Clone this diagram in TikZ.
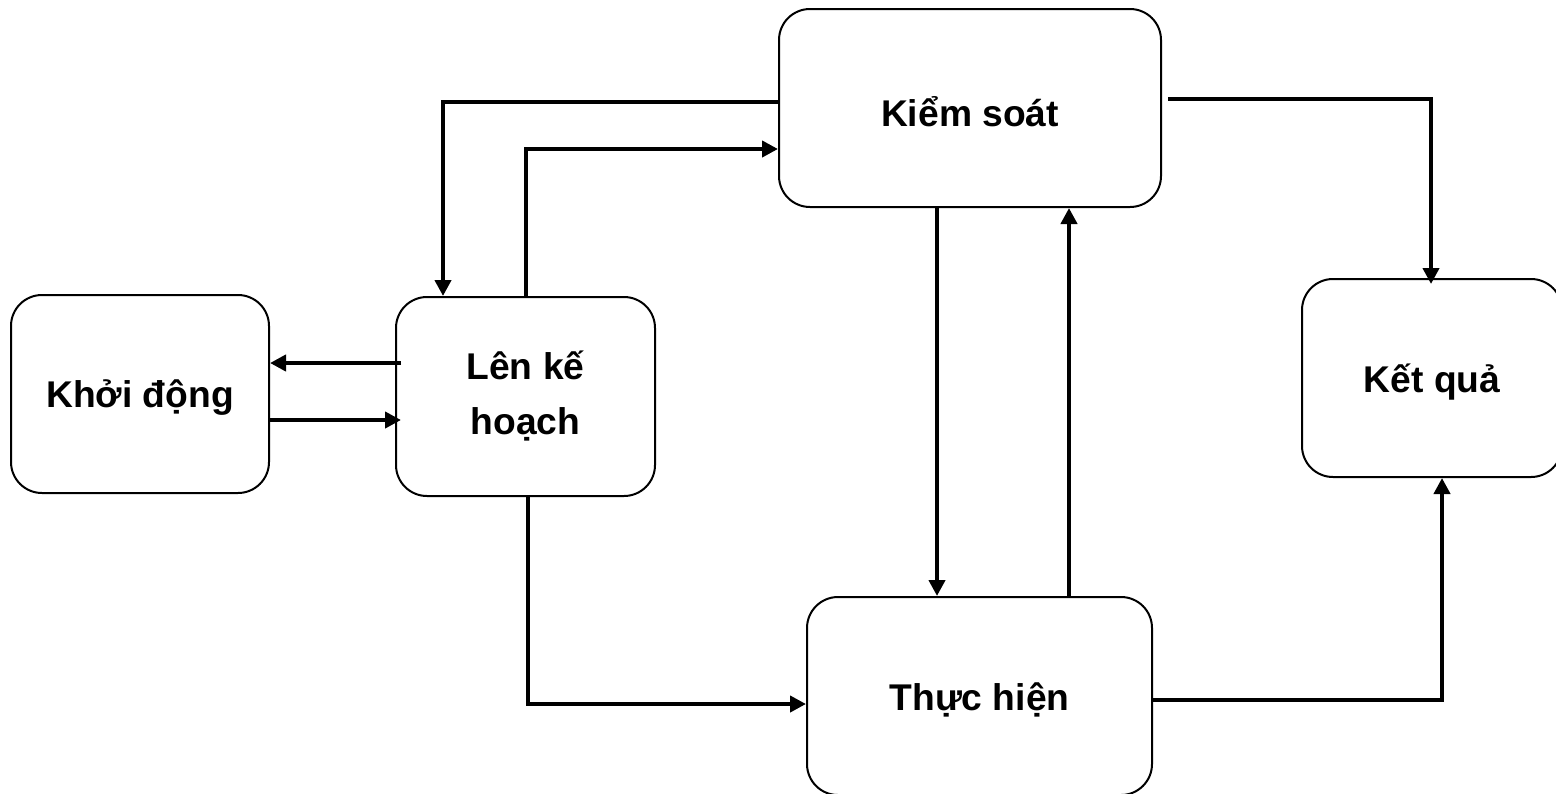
\documentclass[tikz,border=0pt]{standalone}
\usepackage{fontspec}
\setmainfont{Liberation Sans}
\usetikzlibrary{arrows.meta}
\tikzset{
  box/.style={draw=black, line width=1pt, rounded corners=15.5pt, inner sep=0pt,
    align=center, font=\fontsize{18.6}{27.5}\selectfont\bfseries},
  conn/.style={line width=2pt, -{Triangle[length=8pt,width=8pt]}}
}
\newcommand{\lowtext}[1]{\raisebox{-2pt}[\height][\depth]{#1}}
\begin{document}
\begin{tikzpicture}[x=0.5pt,y=-0.5pt]
\useasboundingbox (0,0) rectangle (1556,793);
\clip (0,0) rectangle (1556,793);
\node[box, minimum width=129pt, minimum height=99pt] (A) at (140,394) {\lowtext{Khởi động}};
\node[box, minimum width=129.5pt, minimum height=99.5pt] (B) at (525.5,396.5) {Lên kế\\hoạch};
\node[box, minimum width=191pt, minimum height=99pt] (C) at (970,108) {\lowtext{Kiểm soát}};
\node[box, minimum width=130pt, minimum height=99pt] (D) at (1432,378) {\lowtext{Kết quả}};
\node[box, minimum width=172.5pt, minimum height=99pt] (E) at (979.5,696) {\lowtext{Thực hiện}};
% Lên kế hoạch <-> Khởi động
\draw[conn] ([xshift=3pt]B.west |- 0,363) -- (A.east |- 0,363);
\draw[conn] (A.east |- 0,420) -- ([xshift=3pt]B.west |- 0,420);
% Kiểm soát -> Lên kế hoạch
\coordinate (k1) at (443,102);
\draw[conn] (C.west |- k1) -- (k1) -- (k1 |- B.north);
% Lên kế hoạch -> Kiểm soát
\coordinate (k2) at (526,149);
\draw[conn] (k2 |- B.north) -- (k2) -- (C.west |- k2);
% Kiểm soát -> Kết quả
\coordinate (k3) at (1431,99);
\draw[conn] ([xshift=3pt]C.east |- k3) -- (k3) -- ([yshift=-3pt]k3 |- D.north);
% Kiểm soát <-> Thực hiện
\coordinate (k4) at (937,400);
\draw[conn] (k4 |- C.south) -- (k4 |- E.north);
\coordinate (k5) at (1069,400);
\draw[conn] (k5 |- E.north) -- (k5 |- C.south);
% Lên kế hoạch -> Thực hiện
\coordinate (k6) at (528,704);
\draw[conn] (k6 |- B.south) -- (k6) -- (E.west |- k6);
% Thực hiện -> Kết quả
\coordinate (k7) at (1442,700);
\draw[conn] (E.east |- k7) -- (k7) -- (k7 |- D.south);
\end{tikzpicture}
\end{document}
